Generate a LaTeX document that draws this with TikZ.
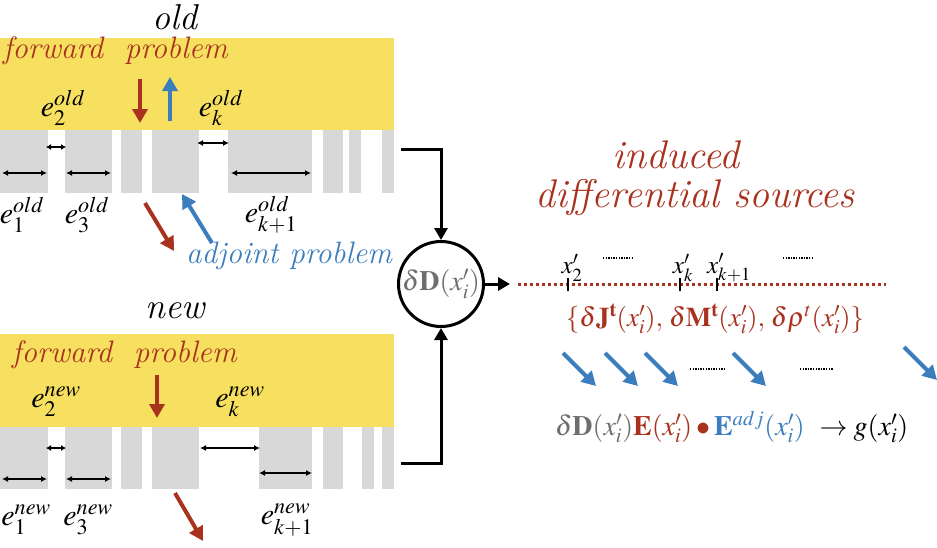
\documentclass[tikz,border=0pt]{standalone}
\usepackage{amsmath, amssymb}
\usepackage{mathptmx}
\usetikzlibrary{positioning, calc, arrows.meta}
\renewcommand{\rmdefault}{lmr}
\definecolor{Mesh}{HTML}{F7E060}
\definecolor{Cell}{HTML}{D9D8D8}
\definecolor{Fwd}{HTML}{A9321E}
\definecolor{Adj}{HTML}{3C7DBE}
\definecolor{Diff}{HTML}{6E6E6E}
\tikzset{
    cellbar/.style={fill=Cell, draw=none},
    sizearrow/.style={{Latex[length=6pt,width=6pt]}-{Latex[length=6pt,width=6pt]}, line width=1.4pt},
    fwdarrow/.style={-{Triangle[length=14pt,width=15pt]}, line width=4pt, color=Fwd},
    adjarrow/.style={-{Triangle[length=14pt,width=15pt]}, line width=4pt, color=Adj},
    linkarrow/.style={-{Triangle[length=12pt,width=13pt]}, line width=3pt},
    titletext/.style={font=\itshape\fontsize{36}{40}\selectfont, inner sep=0pt},
    fwdtext/.style={text=Fwd, font=\itshape\fontsize{31}{35}\selectfont, inner sep=0pt},
    bigtext/.style={text=Fwd, font=\itshape\fontsize{40}{44}\selectfont, inner sep=0pt},
    elabel/.style={font=\fontsize{30}{34}\selectfont, inner sep=0pt},
    mathtext/.style={font=\fontsize{28}{32}\selectfont, inner sep=0pt},
}

\begin{document}
\begin{tikzpicture}[x=1pt, y=-1pt]
    \useasboundingbox (0,0) rectangle (937,547);

    % Mesh vecchia
    \node[titletext, anchor=base] (oldtitle) at (175,29) {old};
    \fill[Mesh] (0,38) rectangle (394,130);
    \foreach \a/\b in {0/48, 65/112, 121/142, 152/199, 228/312, 323/343, 349/361, 382/394}
        \fill[cellbar] (\a,130) rectangle (\b,193);
    \node[fwdtext, anchor=west] (oldfwd) at (3,51) {forward\ \ problem};
    \draw[sizearrow] (2,173) -- (47,173);
    \draw[sizearrow] (66,173) -- (111,173);
    \draw[sizearrow] (231,173) -- (311,173);
    \draw[sizearrow, {Latex[length=5pt,width=6pt]}-{Latex[length=5pt,width=6pt]}] (46,147) -- (66,147);
    \draw[sizearrow] (197,143) -- (229,143);
    \node[elabel] (eold2) at (63,108) {$e_2^{old}$};
    \node[elabel] (eoldk) at (221,108) {$e_k^{old}$};
    \node[elabel] (eold1) at (22,215) {$e_1^{old}$};
    \node[elabel] (eold3) at (87,215) {$e_3^{old}$};
    \node[elabel] (eoldk1) at (271,215) {$e_{k+1}^{old}$};
    \draw[fwdarrow] (140,79) -- (140,123);
    \draw[adjarrow] (170,121) -- (170,77);
    \draw[fwdarrow] (145,203) -- (174,251);
    \draw[adjarrow] (212,243) -- (182,194);
    \node[fwdtext, text=Adj, anchor=west] (oldadj) at (186,256) {adjoint problem};

    % Mesh nuova
    \node[titletext, anchor=base] (newtitle) at (175,318) {new};
    \fill[Mesh] (0,334) rectangle (394,427);
    \foreach \a/\b in {0/48, 65/112, 121/142, 152/199, 259/312, 323/343, 362/374, 382/394}
        \fill[cellbar] (\a,427) rectangle (\b,489);
    \node[fwdtext, anchor=west] (newfwd) at (12,355) {forward\ \ problem};
    \draw[sizearrow] (2,479) -- (47,479);
    \draw[sizearrow] (66,479) -- (111,479);
    \draw[sizearrow] (259,473) -- (312,473);
    \draw[sizearrow, {Latex[length=5pt,width=6pt]}-{Latex[length=5pt,width=6pt]}] (46,448) -- (66,448);
    \draw[sizearrow] (200,448) -- (260,448);
    \node[elabel] (enew2) at (56,402) {$e_2^{new}$};
    \node[elabel] (enewk) at (240,402) {$e_k^{new}$};
    \node[elabel] (enew1) at (26,520) {$e_1^{new}$};
    \node[elabel] (enew3) at (88,520) {$e_3^{new}$};
    \node[elabel] (enewk1) at (287,520) {$e_{k+1}^{new}$};
    \draw[fwdarrow] (157,375) -- (157,418);
    \draw[fwdarrow] (175,493) -- (203,541);

    % Differenza
    \node[circle, draw, line width=3pt, minimum size=85pt, inner sep=0pt, mathtext] (dD) at (441,284)
        {\textcolor{Diff}{$\delta\mathbf{D}(x_i')$}};
    \coordinate (oldout) at (401,149);
    \coordinate (newout) at (401,463);
    \coordinate (srcin) at (510,284);
    \draw[linkarrow] (oldout) -| (dD.north);
    \draw[linkarrow] (newout) -| (dD.south);
    \draw[linkarrow] (dD.east) -- (srcin);

    % Sorgenti differenziali indotte
    \node[bigtext] (induced) at (676,155) {induced};
    \node[bigtext] (diffsrc) at (695,197) {differential sources};
    \coordinate (lineA) at (518,284);
    \coordinate (lineB) at (886,284);
    \draw[Fwd, line width=3pt, dash pattern=on 3pt off 3pt] (lineA) -- (lineB);
    \foreach \t in {568, 680, 717}
        \draw[line width=1.2pt] (\t,278) -- (\t,291);
    \node[mathtext, font=\fontsize{25}{29}\selectfont] (x2) at (572,268) {$x_2'$};
    \node[mathtext, font=\fontsize{25}{29}\selectfont] (xk) at (683,268) {$x_k'$};
    \node[mathtext, font=\fontsize{25}{29}\selectfont] (xk1) at (729,268) {$x_{k+1}'$};
    \draw[line width=1.3pt, dash pattern=on 1.3pt off 1.3pt] (603,258) -- (634,258);
    \draw[line width=1.3pt, dash pattern=on 1.3pt off 1.3pt] (783,258) -- (813,258);
    \node[mathtext, font=\fontsize{27}{31}\selectfont, text=Fwd] (srcset) at (715,319)
        {$\{\delta\mathbf{J}^{\mathbf{t}}(x_i'),\, \delta\mathbf{M}^{\mathbf{t}}(x_i'),\, \delta\rho^{t}(x_i')\}$};

    % Frecce aggiunte
    \foreach \s in {563, 605, 645, 733}
        \draw[adjarrow] (\s,353) -- ++(33,33);
    \draw[adjarrow] (904,347) -- ++(33,33);
    \draw[line width=1.3pt, dash pattern=on 1.3pt off 1.3pt] (690,369) -- (724,369);
    \draw[line width=1.3pt, dash pattern=on 1.3pt off 1.3pt] (800,369) -- (833,369);

    % Gradiente
    \node[mathtext, anchor=west] (grad) at (555,427)
        {$\textcolor{Diff}{\delta\mathbf{D}(x_i')}\textcolor{Fwd}{\mathbf{E}(x_i')}\mathbin{\textcolor{Fwd}{\bullet}}\textcolor{Adj}{\mathbf{E}^{adj}(x_i')}\ \rightarrow g(x_i')$};
\end{tikzpicture}
\end{document}
